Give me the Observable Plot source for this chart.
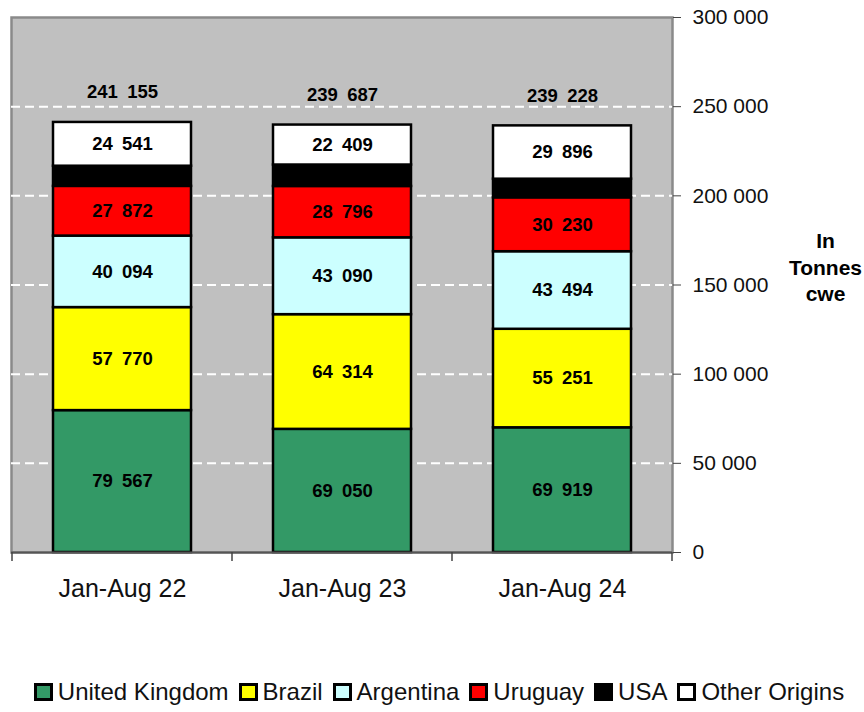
<!DOCTYPE html>
<html><head><meta charset="utf-8">
<script src="https://cdn.jsdelivr.net/npm/d3@7"></script>
<script src="https://cdn.jsdelivr.net/npm/@observablehq/plot@0.6"></script>
<style>
body{margin:0;background:#fff;width:864px;height:712px;overflow:hidden;}
#legend{display:flex;justify-content:center;align-items:center;margin-top:48px;padding-left:14px;font-family:"Liberation Sans",Arial,sans-serif;font-size:24px;color:#111;}
#legend .item{display:flex;align-items:center;margin:0 5px;}
#legend .sw{width:13px;height:12px;border:3px solid #000;margin-right:5px;box-sizing:content-box;}
</style></head>
<body>
<div id="chart"></div>
<div id="legend"></div>
<script>
const periods = ["Jan-Aug 22", "Jan-Aug 23", "Jan-Aug 24"];
const origins = ["United Kingdom", "Brazil", "Argentina", "Uruguay", "USA", "Other Origins"];
const colors = ["#339966", "#ffff00", "#ccffff", "#ff0000", "#000000", "#ffffff"];
const ukValues = [79567, 69050, 69919];
const brazilValues = [57770, 64314, 55251];
const argentinaValues = [40094, 43090, 43494];
const uruguayValues = [27872, 28796, 30230];
const usaValues = [11311, 12028, 10438];
const otherValues = [24541, 22409, 29896];
const totals = [241155, 239687, 239228];
const yTicks = [0, 50000, 100000, 150000, 200000, 250000, 300000];
const gridTicks = [50000, 100000, 150000, 200000, 250000];

const series = [ukValues, brazilValues, argentinaValues, uruguayValues, usaValues, otherValues];
const rows = [];
periods.forEach((p, i) => {
  let acc = 0;
  origins.forEach((o, j) => {
    const v = series[j][i];
    rows.push({period: p, origin: o, value: v, y1: acc, y2: acc + v, mid: acc + v / 2, label: o === "USA" ? "" : v});
    acc += v;
  });
});
const totalRows = periods.map((p, i) => ({period: p, total: totals[i]}));

const fmtSpace = v => d3.format(",")(v).replace(/,/g, " ");
const fmtWide = v => v === "" ? "" : d3.format(",")(v).replace(/,/g, "\u2002");

const chart = Plot.plot({
  width: 864,
  height: 630,
  marginLeft: 11,
  marginRight: 192,
  marginTop: 17,
  marginBottom: 78,
  style: {fontFamily: "'Liberation Sans', Arial, sans-serif", background: "transparent"},
  x: {domain: periods, paddingInner: 0.373, paddingOuter: 0.1865, label: null},
  y: {domain: [0, 300000], label: null},
  color: {domain: origins, range: colors},
  marks: [
    Plot.frame({fill: "#c0c0c0", stroke: "#8a8a8a", strokeWidth: 2.5}),
    Plot.ruleY(gridTicks, {stroke: "#ffffff", strokeWidth: 2, strokeDasharray: "9,5"}),
    Plot.barY(rows, {x: "period", y1: "y1", y2: "y2", fill: "origin", stroke: "#000", strokeWidth: 2.5}),
    Plot.text(rows, {x: "period", y: "mid", text: d => fmtWide(d.label), fontSize: 18.5, fontWeight: "bold", fill: "#000"}),
    Plot.text(totalRows, {x: "period", y: "total", text: d => fmtWide(d.total), dy: -30, fontSize: 18.5, fontWeight: "bold", fill: "#000"}),
    Plot.ruleY([0], {stroke: "#555", strokeWidth: 2}),
    Plot.axisY({anchor: "right", ticks: yTicks, tickSize: 8, tickPadding: 12, tickFormat: fmtSpace, fontSize: 21, stroke: "#444", fill: "#111", label: null}),
    Plot.axisX({anchor: "bottom", tickSize: 0, tickPadding: 27, fontSize: 25, fill: "#111", label: null}),
    Plot.text(["In\nTonnes\ncwe"], {frameAnchor: "right", dx: 153, dy: -19, textAnchor: "middle", lineAnchor: "middle", lineHeight: 1.28, fontSize: 21, fontWeight: "bold", fill: "#000"})
  ]
});
document.getElementById("chart").appendChild(chart);

// boundary tick marks between categories on the x axis
const xs = chart.scale("x");
const ys = chart.scale("y");
const c0 = xs.apply(periods[0]), c1 = xs.apply(periods[1]);
const step = c1 - c0;
const bw = xs.bandwidth || 0;
const y0 = ys.apply(0);
const svg = d3.select(chart);
const bounds = [];
periods.forEach((p, i) => { bounds.push(xs.apply(p) + bw / 2 - step / 2); });
bounds.push(xs.apply(periods[periods.length - 1]) + bw / 2 + step / 2);
svg.append("g").selectAll("line").data(bounds).join("line")
  .attr("x1", d => d).attr("x2", d => d).attr("y1", y0).attr("y2", y0 + 9)
  .attr("stroke", "#444").attr("stroke-width", 1.5);

const legend = d3.select("#legend");
origins.forEach((o, i) => {
  const it = legend.append("div").attr("class", "item");
  it.append("div").attr("class", "sw").style("background", colors[i]);
  it.append("span").text(o);
});
</script>
</body></html>
